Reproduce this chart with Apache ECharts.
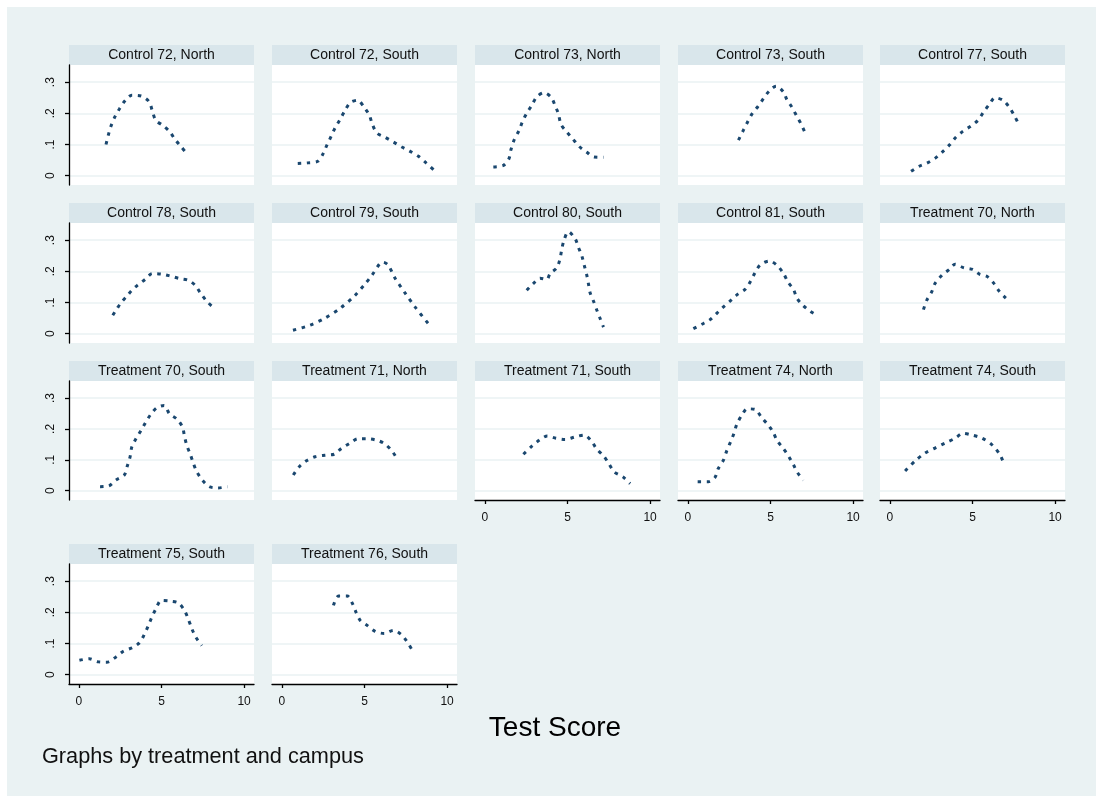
<!DOCTYPE html>
<html><head><meta charset="utf-8">
<script src="https://cdn.jsdelivr.net/npm/echarts@6/dist/echarts.min.js"></script>
<style>
html,body{margin:0;padding:0;background:#fff;width:1096px;height:798px;overflow:hidden}
#bg{position:absolute;left:7px;top:7px;width:1089px;height:789px;background:#eaf2f3}
#chart{position:absolute;left:0;top:0;width:1096px;height:798px}
</style></head><body>
<div id="bg"></div><div id="chart"></div>
<script>
// ---- data ----
const xTickValues = [0, 5, 10];
const yTickValues = [0, 0.1, 0.2, 0.3];
const yTickLabels = ['0', '.1', '.2', '.3'];
const xTitle = 'Test Score';
const note = 'Graphs by treatment and campus';

const panelNames = [
  'Control 72, North', 'Control 72, South', 'Control 73, North', 'Control 73, South', 'Control 77, South',
  'Control 78, South', 'Control 79, South', 'Control 80, South', 'Control 81, South', 'Treatment 70, North',
  'Treatment 70, South', 'Treatment 71, North', 'Treatment 71, South', 'Treatment 74, North', 'Treatment 74, South',
  'Treatment 75, South', 'Treatment 76, South'
];

const c72North = [[1.64,0.10],[1.78,0.13],[1.95,0.16],[2.19,0.19],[2.45,0.214],[2.79,0.24],[3.2,0.258],[3.8,0.255],[4.25,0.237],[4.45,0.207],[4.65,0.178],[5.08,0.161],[5.48,0.142],[5.82,0.116],[6.17,0.094],[6.53,0.071]];
const c72South = [[0.96,0.039],[1.56,0.041],[2.17,0.046],[2.47,0.068],[2.71,0.096],[2.98,0.126],[3.22,0.153],[3.52,0.18],[3.82,0.209],[4.13,0.234],[4.57,0.242],[5.0,0.218],[5.3,0.193],[5.48,0.164],[5.75,0.137],[6.25,0.123],[6.75,0.108],[7.26,0.092],[7.76,0.078],[8.27,0.062],[8.73,0.041],[9.18,0.019]];
const c73North = [[0.51,0.028],[1.12,0.033],[1.46,0.055],[1.58,0.084],[1.78,0.116],[2.07,0.145],[2.27,0.173],[2.53,0.2],[2.84,0.226],[3.14,0.253],[3.58,0.266],[4.0,0.252],[4.25,0.225],[4.45,0.198],[4.61,0.164],[4.96,0.14],[5.32,0.118],[5.7,0.094],[6.17,0.075],[6.61,0.06],[7.18,0.059]];
const c73South = [[3.06,0.114],[3.36,0.146],[3.62,0.173],[3.9,0.2],[4.23,0.221],[4.57,0.247],[4.92,0.271],[5.34,0.287],[5.79,0.268],[5.99,0.244],[6.29,0.22],[6.59,0.191],[6.85,0.166],[7.1,0.137]];
const c77South = [[1.28,0.014],[1.77,0.03],[2.27,0.041],[2.77,0.057],[3.18,0.076],[3.6,0.098],[3.99,0.123],[4.41,0.142],[4.9,0.159],[5.32,0.177],[5.67,0.204],[6.01,0.228],[6.37,0.25],[6.87,0.241],[7.28,0.215],[7.58,0.188],[7.85,0.159]];
const c78South = [[2.05,0.059],[2.33,0.082],[2.59,0.102],[2.9,0.12],[3.2,0.139],[3.54,0.155],[4.01,0.174],[4.45,0.193],[5.02,0.191],[5.52,0.185],[6.07,0.177],[6.63,0.171],[7.04,0.155],[7.35,0.131],[7.69,0.107],[8.05,0.088]];
const c79South = [[0.67,0.011],[1.7,0.027],[2.61,0.05],[3.52,0.081],[4.43,0.123],[5.04,0.16],[5.46,0.188],[5.95,0.226],[6.13,0.229],[6.43,0.22],[6.85,0.178],[7.46,0.13],[8.07,0.085],[8.85,0.033]];
const c80South = [[2.53,0.139],[2.9,0.159],[3.34,0.178],[3.75,0.174],[3.95,0.193],[4.35,0.211],[4.55,0.241],[4.65,0.27],[4.79,0.3],[5.05,0.327],[5.46,0.305],[5.66,0.277],[5.87,0.249],[6.01,0.22],[6.17,0.187],[6.27,0.159],[6.37,0.131],[6.57,0.105],[6.78,0.075],[6.98,0.048],[7.18,0.021]];
const c81South = [[0.33,0.016],[0.84,0.03],[1.34,0.045],[1.76,0.066],[2.15,0.086],[2.55,0.104],[3.0,0.126],[3.46,0.142],[3.77,0.166],[4.07,0.196],[4.37,0.22],[4.92,0.233],[5.38,0.22],[5.79,0.193],[6.05,0.166],[6.39,0.142],[6.6,0.114],[6.96,0.091],[7.4,0.072],[7.9,0.057]];
const t70North = [[2.03,0.077],[2.23,0.107],[2.53,0.134],[2.73,0.161],[3.14,0.187],[3.6,0.206],[3.95,0.223],[4.45,0.212],[5.0,0.206],[5.42,0.191],[5.87,0.184],[6.27,0.163],[6.62,0.136],[7.02,0.114]];
const t70South = [[1.28,0.013],[1.82,0.016],[2.25,0.035],[2.75,0.051],[2.93,0.08],[3.1,0.11],[3.2,0.141],[3.46,0.169],[3.76,0.195],[4.05,0.222],[4.35,0.247],[4.71,0.268],[5.16,0.276],[5.48,0.249],[5.93,0.232],[6.27,0.206],[6.39,0.177],[6.53,0.147],[6.73,0.12],[6.93,0.089],[7.14,0.061],[7.48,0.034],[7.9,0.013],[8.41,0.009],[9.0,0.013]];
const t71North = [[0.69,0.051],[1.04,0.077],[1.46,0.096],[2.01,0.11],[2.61,0.115],[3.16,0.118],[3.58,0.136],[4.09,0.153],[4.6,0.168],[5.18,0.168],[5.7,0.164],[6.19,0.153],[6.66,0.129],[6.96,0.104]];
const t71South = [[2.33,0.118],[2.78,0.141],[3.28,0.163],[3.78,0.177],[4.3,0.17],[4.85,0.166],[5.45,0.174],[6.0,0.18],[6.47,0.159],[6.78,0.134],[7.18,0.113],[7.52,0.086],[7.82,0.061],[8.35,0.045],[8.79,0.023]];
const t74North = [[0.59,0.029],[1.24,0.029],[1.64,0.043],[1.84,0.072],[2.15,0.099],[2.35,0.129],[2.59,0.159],[2.79,0.186],[2.96,0.215],[3.26,0.244],[3.6,0.265],[4.07,0.263],[4.47,0.236],[4.81,0.216],[5.12,0.193],[5.42,0.161],[5.74,0.139],[6.08,0.113],[6.39,0.084],[6.63,0.059],[6.99,0.034]];
const t74South = [[0.92,0.064],[1.52,0.096],[2.13,0.122],[2.73,0.138],[3.34,0.154],[3.95,0.17],[4.43,0.186],[4.98,0.18],[5.58,0.17],[6.19,0.148],[6.67,0.116],[6.92,0.084]];
const t75South = [[0.03,0.046],[0.63,0.051],[1.18,0.041],[1.68,0.04],[2.25,0.057],[2.69,0.075],[3.2,0.086],[3.66,0.102],[3.96,0.129],[4.21,0.158],[4.41,0.184],[4.67,0.212],[4.98,0.238],[5.52,0.236],[6.02,0.23],[6.39,0.206],[6.63,0.177],[6.84,0.147],[7.08,0.12],[7.44,0.093]];
const t76South = [[3.12,0.222],[3.42,0.252],[3.96,0.252],[4.27,0.228],[4.49,0.2],[4.74,0.174],[5.14,0.159],[5.64,0.139],[6.19,0.132],[6.75,0.142],[7.22,0.129],[7.56,0.107],[7.93,0.075]];

const panelData = [c72North, c72South, c73North, c73South, c77South, c78South, c79South, c80South, c81South, t70North,
  t70South, t71North, t71South, t74North, t74South, t75South, t76South];

// ---- layout ----
const FONT = '"Liberation Sans", Arial, sans-serif';
const colLefts = [69, 272, 475, 678, 880];
const plotW = 185;
const rowTops = [65, 223, 381, 564];
const rowHeights = [120, 120, 119, 120];
const stripH = 20;
const xAxisPanels = [12, 13, 14, 15, 16];

const grids = [], xAxes = [], yAxes = [], series = [], graphics = [];

panelNames.forEach((name, i) => {
  const r = Math.floor(i / 5), c = i % 5;
  grids.push({ left: colLefts[c], top: rowTops[r], width: plotW, height: rowHeights[r],
    show: true, backgroundColor: '#ffffff', borderWidth: 0 });
  const showX = xAxisPanels.includes(i);
  xAxes.push({ type: 'value', gridIndex: i, min: -0.6, max: 10.6,
    axisLine: { show: showX, onZero: false, lineStyle: { color: '#000', width: 1.3 } },
    axisTick: { show: showX, length: 4, customValues: xTickValues, lineStyle: { color: '#000', width: 1.3 } },
    axisLabel: { show: showX, customValues: xTickValues, margin: 12, fontSize: 12, color: '#111', fontFamily: FONT },
    splitLine: { show: false } });
  const showY = c === 0;
  yAxes.push({ type: 'value', gridIndex: i, min: -0.03, max: 0.355,
    axisLine: { show: showY, onZero: false, lineStyle: { color: '#000', width: 1.3 } },
    axisTick: { show: showY, length: 4, customValues: yTickValues, lineStyle: { color: '#000', width: 1.3 } },
    axisLabel: { show: showY, customValues: yTickValues, rotate: 90, margin: 12, fontSize: 12, color: '#111', fontFamily: FONT,
      formatter: v => { const k = yTickValues.findIndex(t => Math.abs(t - v) < 1e-9); return k >= 0 ? yTickLabels[k] : ''; } },
    splitLine: { show: true, lineStyle: { color: '#eaf2f3', width: 1.5 } } });
  series.push({ type: 'line', xAxisIndex: i, yAxisIndex: i, data: panelData[i],
    symbol: 'none', showSymbol: false, smooth: 0.3, silent: true,
    lineStyle: { color: '#1a476f', width: 3, type: [3.5, 5.5] } });
  graphics.push({ type: 'rect', shape: { x: colLefts[c], y: rowTops[r] - stripH, width: plotW, height: stripH },
    style: { fill: '#d9e6eb' }, silent: true });
  graphics.push({ type: 'text', x: colLefts[c] + plotW / 2, y: rowTops[r] - stripH / 2,
    style: { text: name, align: 'center', verticalAlign: 'middle', fontSize: 14, fill: '#111', fontFamily: FONT }, silent: true });
});

graphics.push({ type: 'text', x: 555, y: 728,
  style: { text: xTitle, align: 'center', verticalAlign: 'middle', fontSize: 28, fill: '#000', fontFamily: FONT } });
graphics.push({ type: 'text', x: 42, y: 757,
  style: { text: note, align: 'left', verticalAlign: 'middle', fontSize: 21.7, fill: '#111', fontFamily: FONT } });

const chart = echarts.init(document.getElementById('chart'), null, { renderer: 'canvas' });
chart.setOption({
  animation: false,
  backgroundColor: 'transparent',
  grid: grids, xAxis: xAxes, yAxis: yAxes, series: series,
  graphic: { elements: graphics }
});
</script>
</body></html>
